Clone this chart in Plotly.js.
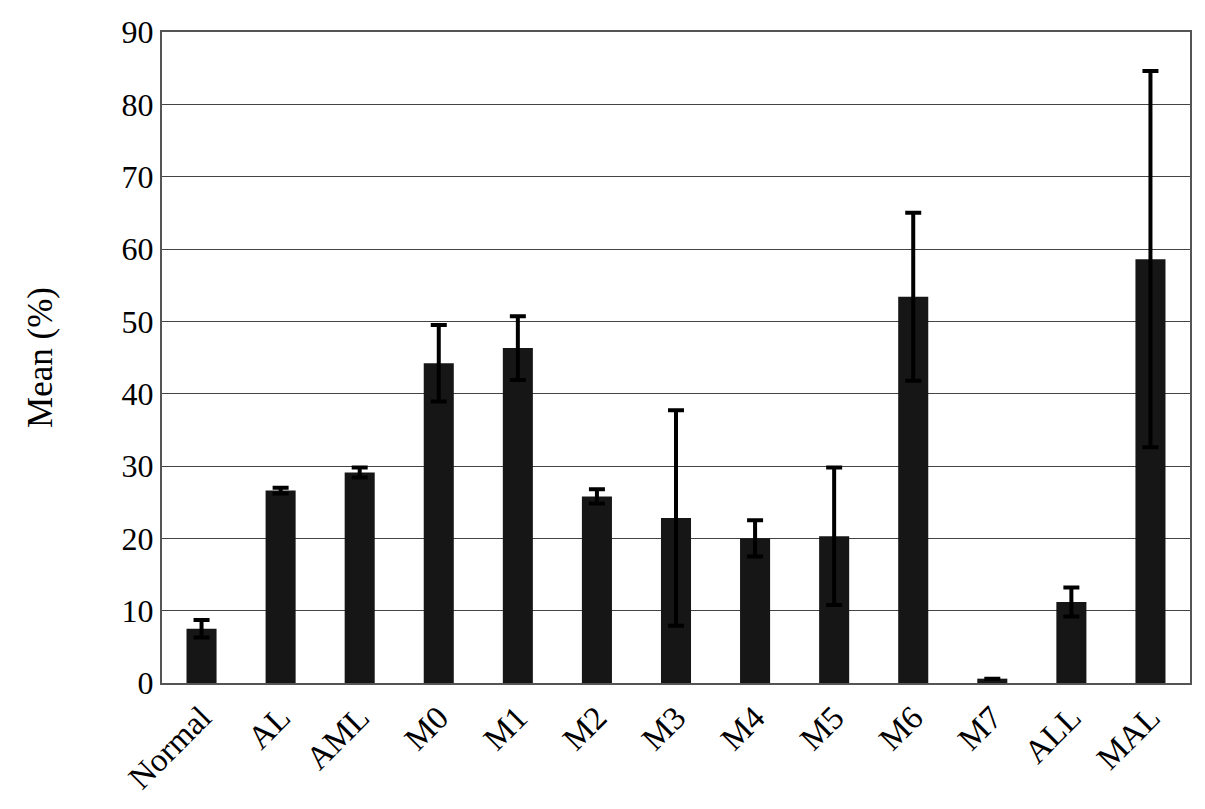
<!DOCTYPE html>
<html>
<head>
<meta charset="utf-8">
<script src="https://cdn.plot.ly/plotly-3.0.1.min.js"></script>
<style>html,body{margin:0;padding:0;background:#fff;}#chart{width:1205px;height:809px;}</style>
</head>
<body>
<div id="chart"></div>
<script>
const categories = ["Normal", "AL", "AML", "M0", "M1", "M2", "M3", "M4", "M5", "M6", "M7", "ALL", "MAL"];
const meanValues = [7.5, 26.6, 29.1, 44.2, 46.3, 25.8, 22.8, 20.0, 20.3, 53.4, 0.6, 11.2, 58.6];
const errorValues = [1.2, 0.4, 0.7, 5.3, 4.4, 1.0, 14.9, 2.5, 9.5, 11.6, null, 2.0, 26.0];
const yTickValues = [0, 10, 20, 30, 40, 50, 60, 70, 80, 90];

const serif = '"Liberation Serif", "Times New Roman", serif';

const trace = {
  type: 'bar',
  x: categories,
  y: meanValues,
  width: 0.38,
  marker: {color: '#161616', line: {width: 0}},
  error_y: {type: 'data', array: errorValues, symmetric: true, visible: true,
            color: '#000', thickness: 4, width: 8}
};

const layout = {
  width: 1205, height: 809,
  margin: {l: 162, r: 15, t: 32, b: 126},
  paper_bgcolor: '#fff', plot_bgcolor: '#fff',
  showlegend: false,
  font: {family: serif, color: '#000', size: 32},
  xaxis: {
    type: 'category',
    tickangle: -45,
    tickfont: {family: serif, size: 33, color: '#000'},
    showline: true, mirror: true, linecolor: '#555', linewidth: 2,
    showgrid: false, ticks: '', automargin: false
  },
  yaxis: {
    range: [0, 90],
    tickvals: yTickValues,
    ticktext: yTickValues.map(String),
    tickfont: {family: serif, size: 32, color: '#000'},
    showline: true, mirror: true, linecolor: '#555', linewidth: 2,
    showgrid: true, gridcolor: '#444', gridwidth: 1,
    zeroline: false, ticks: '', ticklen: 0,
    automargin: false,
    title: {text: 'Mean (%)', font: {family: serif, size: 35, color: '#000'}, standoff: 58}
  },
  bargap: 0.62
};

Plotly.newPlot('chart', [trace], layout, {displayModeBar: false, staticPlot: true});
</script>
</body>
</html>
